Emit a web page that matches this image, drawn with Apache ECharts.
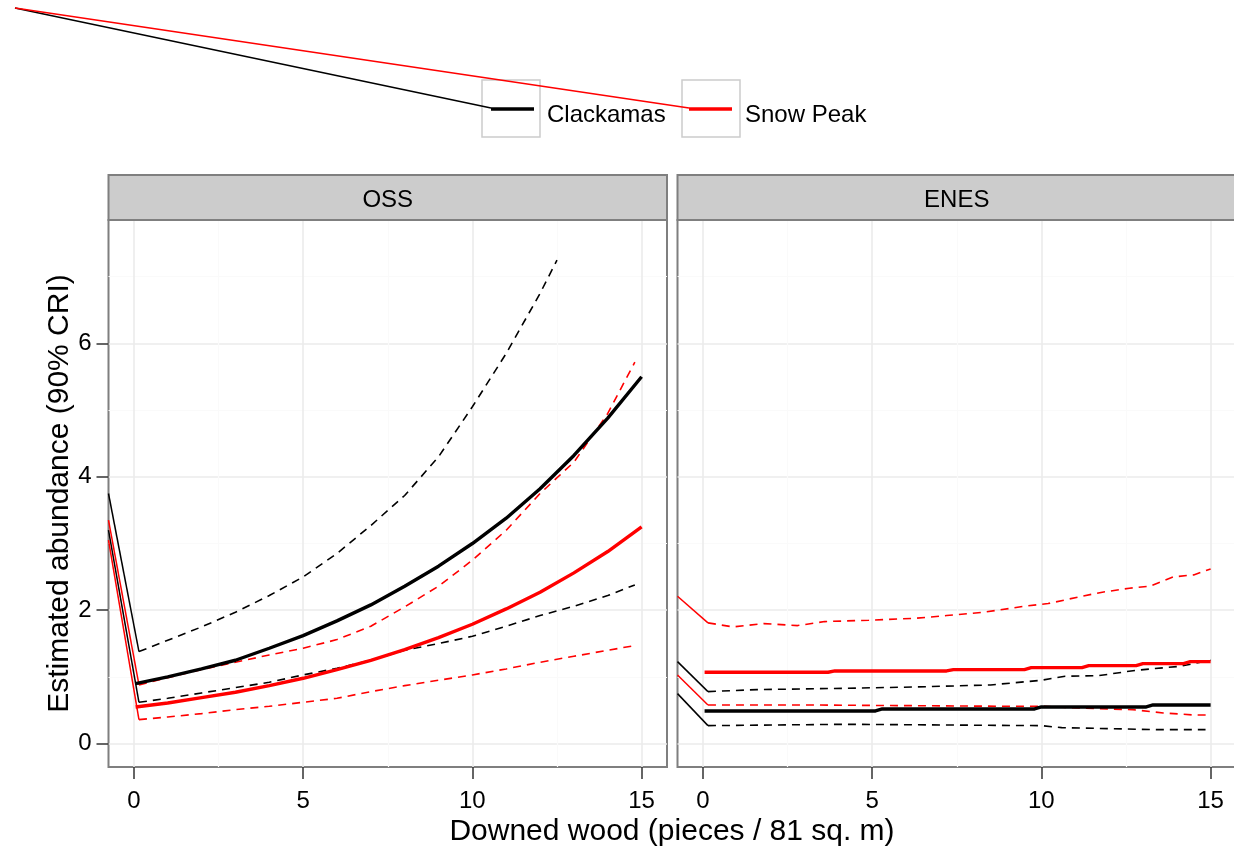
<!DOCTYPE html>
<html><head><meta charset="utf-8">
<script src="https://cdn.jsdelivr.net/npm/echarts@6/dist/echarts.min.js"></script>
<style>html,body{margin:0;padding:0;background:#fff}#c{width:1234px;height:852px}</style>
</head><body><div id="c"></div>
<script>
const FONT = 'Liberation Sans';
const panels = ['OSS', 'ENES'];
const groups = ['Clackamas', 'Snow Peak'];
const groupColors = ['#000000', '#FF0000'];
const xTicks = [0, 5, 10, 15];
const yTicks = [0, 2, 4, 6];
const xMinor = [2.5, 7.5, 12.5];
const yMinor = [1, 3, 5, 7];
const xRange = [-0.75, 15.75];
const yRange = [-0.35, 7.85];

// ---- OSS panel ----
const ossClackMedX = [0.05, 1, 2, 3, 4, 5, 6, 7, 8, 9, 10, 11, 12, 13, 14, 15];
const ossClackMedY = [0.90, 1.00, 1.12, 1.25, 1.43, 1.62, 1.84, 2.08, 2.36, 2.66, 3.00, 3.38, 3.82, 4.32, 4.88, 5.50];
const ossClackUpX = [0.15, 1, 2, 3, 4, 5, 6, 7, 8, 9, 10, 11, 12, 12.5];
const ossClackUpY = [1.38, 1.55, 1.75, 1.97, 2.22, 2.50, 2.85, 3.27, 3.72, 4.30, 5.05, 5.85, 6.75, 7.25];
const ossClackLoX = [0.15, 1, 2, 3, 4, 5, 6, 7, 8, 9, 10, 11, 12, 13, 14, 14.8];
const ossClackLoY = [0.62, 0.68, 0.76, 0.84, 0.92, 1.03, 1.13, 1.25, 1.40, 1.50, 1.61, 1.76, 1.92, 2.06, 2.22, 2.38];
const ossSnowMedX = [0.05, 1, 2, 3, 4, 5, 6, 7, 8, 9, 10, 11, 12, 13, 14, 15];
const ossSnowMedY = [0.55, 0.61, 0.69, 0.77, 0.87, 0.98, 1.11, 1.25, 1.41, 1.59, 1.79, 2.02, 2.27, 2.56, 2.88, 3.25];
const ossSnowUpX = [0.15, 1, 2, 3, 4, 5, 6, 7, 8, 9, 10, 11, 12, 13, 14, 14.8];
const ossSnowUpY = [0.88, 0.99, 1.11, 1.22, 1.33, 1.43, 1.56, 1.76, 2.05, 2.36, 2.75, 3.20, 3.75, 4.22, 4.95, 5.72];
const ossSnowLoX = [0.15, 1, 2, 3, 4, 5, 6, 7, 8, 9, 10, 11, 12, 13, 14, 14.8];
const ossSnowLoY = [0.36, 0.40, 0.45, 0.51, 0.56, 0.62, 0.68, 0.78, 0.87, 0.95, 1.03, 1.12, 1.22, 1.31, 1.40, 1.47];
// stray first vertices of the interval lines (at the panel's left edge)
const ossStrayY = { clackUp: 3.75, clackLo: 3.20, snowUp: 3.35, snowLo: 3.05 };

// ---- ENES panel ----
const enesClackMedX = [0.05, 5.1, 5.3, 9.8, 10.0, 13.1, 13.3, 15];
const enesClackMedY = [0.49, 0.49, 0.52, 0.52, 0.55, 0.55, 0.58, 0.58];
const enesClackUpX = [0.15, 1.6, 4.2, 6.3, 8.5, 10.0, 10.7, 11.7, 12.8, 14.1, 15];
const enesClackUpY = [0.78, 0.81, 0.83, 0.85, 0.88, 0.95, 1.01, 1.02, 1.10, 1.16, 1.25];
const enesClackLoX = [0.15, 4.2, 10, 10.6, 13.4, 14.85];
const enesClackLoY = [0.27, 0.29, 0.27, 0.24, 0.21, 0.21];
const enesSnowMedX = [0.05, 3.7, 3.9, 7.2, 7.4, 9.5, 9.7, 11.2, 11.4, 12.8, 13.0, 14.2, 14.4, 15];
const enesSnowMedY = [1.07, 1.07, 1.09, 1.09, 1.11, 1.11, 1.14, 1.14, 1.17, 1.17, 1.20, 1.20, 1.23, 1.23];
const enesSnowUpX = [0.15, 0.9, 1.8, 2.8, 3.6, 4.9, 6.3, 7.2, 8.3, 9.5, 10.2, 11.2, 11.8, 12.6, 13.2, 13.9, 14.5, 15];
const enesSnowUpY = [1.81, 1.75, 1.80, 1.77, 1.83, 1.85, 1.88, 1.92, 1.97, 2.06, 2.10, 2.21, 2.27, 2.33, 2.36, 2.50, 2.53, 2.62];
const enesSnowLoX = [0.15, 3, 6, 9, 10, 11.3, 12.7, 13.6, 14.5, 15];
const enesSnowLoY = [0.58, 0.58, 0.57, 0.56, 0.56, 0.53, 0.51, 0.46, 0.43, 0.43];
const enesStrayY = { clackUp: 1.23, clackLo: 0.75, snowUp: 2.21, snowLo: 1.03 };

const zip = (xs, ys) => xs.map((x, i) => [x, ys[i]]);

const panelData = [
  { clack: { med: [ossClackMedX, ossClackMedY], up: [ossClackUpX, ossClackUpY], lo: [ossClackLoX, ossClackLoY] },
    snow:  { med: [ossSnowMedX, ossSnowMedY], up: [ossSnowUpX, ossSnowUpY], lo: [ossSnowLoX, ossSnowLoY] },
    stray: ossStrayY },
  { clack: { med: [enesClackMedX, enesClackMedY], up: [enesClackUpX, enesClackUpY], lo: [enesClackLoX, enesClackLoY] },
    snow:  { med: [enesSnowMedX, enesSnowMedY], up: [enesSnowUpX, enesSnowUpY], lo: [enesSnowLoX, enesSnowLoY] },
    stray: enesStrayY }
];

const series = [];
panelData.forEach((p, g) => {
  [['clack', 0], ['snow', 1]].forEach(([key, gi]) => {
    const color = groupColors[gi];
    const name = groups[gi];
    const base = { type: 'line', name, xAxisIndex: g * 2, yAxisIndex: g * 2, showSymbol: false, symbol: 'none',
      animation: false, silent: true, itemStyle: { color } };
    ['up', 'lo'].forEach(b => {
      const arr = p[key][b];
      const first = [arr[0][0], arr[1][0]];
      series.push(Object.assign({}, base, { z: 3,
        data: [[xRange[0], p.stray[key + (b === 'up' ? 'Up' : 'Lo')]], first],
        lineStyle: { color, width: 1.5, type: 'solid' } }));
      series.push(Object.assign({}, base, { z: 3,
        data: zip(arr[0], arr[1]),
        lineStyle: { color, width: 1.6, type: [8, 6] } }));
    });
    series.push(Object.assign({}, base, { z: 4,
      data: zip(p[key].med[0], p[key].med[1]),
      lineStyle: { color, width: 3.4, type: 'solid' } }));
  });
});

const gridW = 558.5, gridH = 547, gridTop = 220;
const gridLefts = [108.5, 677.5];
const grids = gridLefts.map(l => ({ left: l, top: gridTop, width: gridW, height: gridH, show: true,
  backgroundColor: '#FFFFFF', borderColor: '#7F7F7F', borderWidth: 2, outerBoundsMode: 'none', containLabel: false }));

const xAxes = [], yAxes = [];
gridLefts.forEach((l, g) => {
  xAxes.push({ type: 'value', gridIndex: g, min: xRange[0], max: xRange[1], position: 'bottom',
    axisLine: { show: false, onZero: false },
    axisTick: { show: true, inside: false, length: 12, customValues: xTicks, lineStyle: { color: '#333333', width: 1.5 } },
    axisLabel: { show: true, customValues: xTicks, margin: 22, fontSize: 24, fontFamily: FONT, color: '#000000' },
    splitLine: { show: true, lineStyle: { color: '#EBEBEB', width: 1.6 } } });
  xAxes.push({ type: 'value', gridIndex: g, min: xRange[0], max: xRange[1], position: 'top',
    axisLine: { show: false, onZero: false }, axisTick: { show: false, customValues: xMinor }, axisLabel: { show: false, customValues: xMinor },
    splitLine: { show: true, lineStyle: { color: '#FAFAFA', width: 1.2 } } });
  yAxes.push({ type: 'value', gridIndex: g, min: yRange[0], max: yRange[1], position: 'left',
    name: g === 0 ? 'Estimated abundance (90% CRI)' : '', nameLocation: 'middle', nameGap: 34, nameRotate: 90,
    nameTextStyle: { fontSize: 30, fontFamily: FONT, color: '#000000' },
    axisLine: { show: false, onZero: false },
    axisTick: { show: g === 0, inside: false, length: 12, customValues: yTicks, lineStyle: { color: '#333333', width: 1.5 } },
    axisLabel: { show: g === 0, customValues: yTicks, margin: 17, fontSize: 24, fontFamily: FONT, color: '#000000' },
    splitLine: { show: true, lineStyle: { color: '#EBEBEB', width: 1.6 } } });
  yAxes.push({ type: 'value', gridIndex: g, min: yRange[0], max: yRange[1], position: 'right',
    axisLine: { show: false, onZero: false }, axisTick: { show: false, customValues: yMinor }, axisLabel: { show: false, customValues: yMinor },
    splitLine: { show: true, lineStyle: { color: '#FAFAFA', width: 1.2 } } });
});

const legends = groups.map((name, i) => ({
  data: [{ name, icon: 'rect', itemStyle: { color: groupColors[i] } }],
  left: [491, 689][i], top: 103, padding: 0, itemWidth: 43, itemHeight: 3.5,
  selectedMode: false,
  formatter: '{t|{name}}',
  textStyle: { fontSize: 24, fontFamily: FONT, color: '#000000', padding: [0, 0, 0, 8],
    rich: { t: { fontSize: 24, fontFamily: FONT, color: '#000000', padding: [12, 0, 0, 0] } } }
}));

const graphic = [];
[482, 682].forEach(x => graphic.push({ type: 'rect', z: 0, shape: { x, y: 80, width: 58, height: 57 },
  style: { fill: '#FFFFFF', stroke: '#CCCCCC', lineWidth: 1.5 } }));
[[491, '#000000'], [689, '#FF0000']].forEach(([x, c]) => graphic.push({ type: 'polyline', z: 5,
  shape: { points: [[15, 8], [x, 108]] }, style: { stroke: c, lineWidth: 1.5, fill: null } }));
gridLefts.forEach((l, g) => {
  graphic.push({ type: 'rect', z: 1, shape: { x: l, y: 175, width: gridW, height: 45 },
    style: { fill: '#CCCCCC', stroke: '#7F7F7F', lineWidth: 2 } });
  graphic.push({ type: 'text', z: 2, x: l + gridW / 2, y: 200,
    style: { text: panels[g], font: '24px "Liberation Sans"', fill: '#000000', align: 'center', verticalAlign: 'middle',
      textAlign: 'center', textVerticalAlign: 'middle' } });
});
graphic.push({ type: 'text', z: 2, x: 672, y: 832,
  style: { text: 'Downed wood (pieces / 81 sq. m)', font: '30px "Liberation Sans"', fill: '#000000',
    align: 'center', verticalAlign: 'middle', textAlign: 'center', textVerticalAlign: 'middle' } });

const chart = echarts.init(document.getElementById('c'), null, { renderer: 'canvas' });
chart.setOption({
  animation: false,
  backgroundColor: '#FFFFFF',
  textStyle: { fontFamily: FONT },
  grid: grids,
  xAxis: xAxes,
  yAxis: yAxes,
  legend: legends,
  graphic,
  series
});
</script></body></html>
